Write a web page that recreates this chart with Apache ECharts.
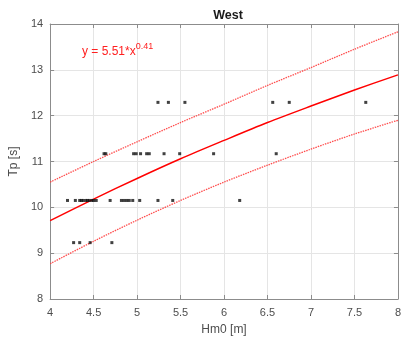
<!DOCTYPE html>
<html>
<head>
<meta charset="utf-8">
<script src="https://cdn.jsdelivr.net/npm/echarts@6/dist/echarts.min.js"></script>
<style>
html,body{margin:0;padding:0;background:#fff;}
#chart{width:404px;height:344px;}
</style>
</head>
<body>
<div id="chart"></div>
<script>
// Observed points (Hm0 [m], Tp [s])
const scatterHm0 = [
  5.24, 5.36, 5.55, 6.56, 6.75, 7.63,
  4.62, 4.64, 4.96, 4.99, 5.04, 5.11, 5.14, 5.31, 5.49, 5.88, 6.60,
  4.20, 4.29, 4.34, 4.36, 4.38, 4.41, 4.43, 4.45, 4.48, 4.50, 4.53, 4.69, 4.82, 4.85, 4.88, 4.91, 4.95, 5.03, 5.24, 5.41, 6.18,
  4.27, 4.34, 4.46, 4.71
];
const scatterTp = [
  12.29, 12.29, 12.29, 12.29, 12.29, 12.29,
  11.17, 11.17, 11.17, 11.17, 11.17, 11.17, 11.17, 11.17, 11.17, 11.17, 11.17,
  10.15, 10.15, 10.15, 10.15, 10.15, 10.15, 10.15, 10.15, 10.15, 10.15, 10.15, 10.15, 10.15, 10.15, 10.15, 10.15, 10.15, 10.15, 10.15, 10.15, 10.15,
  9.23, 9.23, 9.23, 9.23
];
// Fit curve and bounds
const curveHm0 = [4, 4.5, 5, 5.5, 6, 6.5, 7, 7.5, 8];
const fitTp    = [9.71, 10.18, 10.63, 11.06, 11.46, 11.85, 12.21, 12.56, 12.89];
const upperTp  = [10.55, 11.00, 11.43, 11.85, 12.25, 12.66, 13.05, 13.45, 13.83];
const lowerTp  = [8.77, 9.26, 9.72, 10.15, 10.55, 10.92, 11.27, 11.60, 11.90];
const xTicks = [4, 4.5, 5, 5.5, 6, 6.5, 7, 7.5, 8];
const yTicks = [8, 9, 10, 11, 12, 13, 14];
const titleText = 'West';
const xName = 'Hm0 [m]';
const yName = 'Tp [s]';

const pts = scatterHm0.map((x, i) => [x, scatterTp[i]]);
const pair = arr => curveHm0.map((x, i) => [x, arr[i]]);

const font = 'Helvetica, "Liberation Sans", Arial, sans-serif';
const labelColor = '#4d4d4d';
const axisColor = '#8c8c8c';

const chart = echarts.init(document.getElementById('chart'), null, {renderer: 'canvas'});
const baseX = {
  type: 'value', min: xTicks[0], max: xTicks[xTicks.length - 1], interval: 0.5,
  axisLine: {show: true, onZero: false, lineStyle: {color: axisColor, width: 1}},
  axisTick: {show: true, inside: true, length: 4, lineStyle: {color: axisColor}},
  splitLine: {show: false}
};
const baseY = {
  type: 'value', min: yTicks[0], max: yTicks[yTicks.length - 1], interval: 1,
  axisLine: {show: true, onZero: false, lineStyle: {color: axisColor, width: 1}},
  axisTick: {show: true, inside: true, length: 4, lineStyle: {color: axisColor}},
  splitLine: {show: false}
};
chart.setOption({
  animation: false,
  backgroundColor: '#fff',
  title: {
    text: titleText, left: 223, top: 4, textAlign: 'center',
    textStyle: {fontFamily: font, fontSize: 12.5, fontWeight: 'bold', color: '#1a1a1a'}
  },
  grid: {left: 47, right: 5, top: 24, bottom: 45, containLabel: false},
  xAxis: [
    Object.assign({}, baseX, {
      position: 'bottom',
      name: xName, nameLocation: 'middle', nameGap: 25,
      nameTextStyle: {fontFamily: font, fontSize: 12, color: labelColor},
      axisLabel: {show: true, margin: 8, fontFamily: font, fontSize: 11, color: labelColor,
        formatter: v => String(v)},
      splitLine: {show: true, lineStyle: {color: '#e5e5e5', width: 1}}
    }),
    Object.assign({}, baseX, {position: 'top', axisLabel: {show: false}})
  ],
  yAxis: [
    Object.assign({}, baseY, {
      position: 'left',
      name: yName, nameLocation: 'middle', nameGap: 23, nameRotate: 90,
      nameTextStyle: {fontFamily: font, fontSize: 12, color: labelColor},
      axisLabel: {show: true, margin: 7, fontFamily: font, fontSize: 11, color: labelColor},
      splitLine: {show: true, lineStyle: {color: '#e5e5e5', width: 1}}
    }),
    Object.assign({}, baseY, {position: 'right', axisLabel: {show: false}})
  ],
  graphic: [{
    type: 'text', left: 82, top: 42, z: 100,
    style: {
      text: '{m|y = 5.51*x}{s|0.41}',
      rich: {
        m: {fontFamily: font, fontSize: 12, fill: '#ff2020', verticalAlign: 'bottom', lineHeight: 16},
        s: {fontFamily: font, fontSize: 9, fill: '#ff2020', verticalAlign: 'top', lineHeight: 16, padding: [0, 0, 8, 0]}
      }
    }
  }],
  series: [
    {
      type: 'line', data: pair(upperTp), smooth: 0.3, symbol: 'none', z: 3,
      lineStyle: {color: '#ff3a3a', width: 1.3, type: [1.5, 1], opacity: 0.9}
    },
    {
      type: 'line', data: pair(lowerTp), smooth: 0.3, symbol: 'none', z: 3,
      lineStyle: {color: '#ff3a3a', width: 1.3, type: [1.5, 1], opacity: 0.9}
    },
    {
      type: 'line', data: pair(fitTp), smooth: 0.3, symbol: 'none', z: 4,
      lineStyle: {color: '#ff0000', width: 1.5}
    },
    {
      type: 'scatter', data: pts, symbol: 'rect', symbolSize: 3, z: 5,
      itemStyle: {color: '#111'}
    }
  ]
});
</script>
</body>
</html>
